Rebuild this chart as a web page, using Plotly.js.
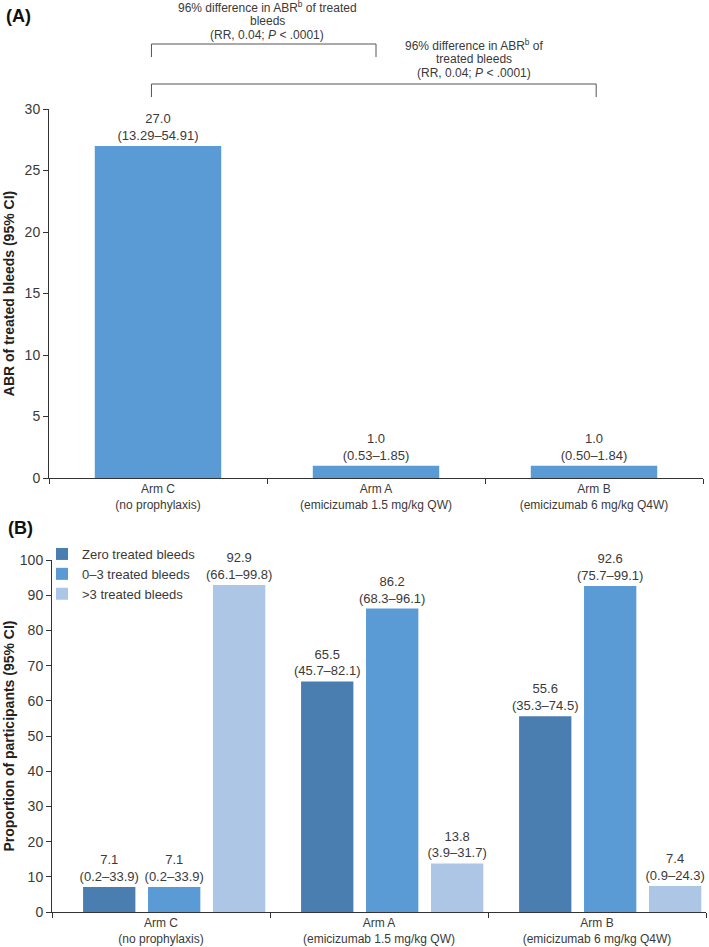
<!DOCTYPE html>
<html>
<head>
<meta charset="utf-8">
<script src="https://cdn.plot.ly/plotly-3.0.1.min.js"></script>
<style>html,body{margin:0;padding:0;background:#fff;}#chart{width:709px;height:947px;}</style>
</head>
<body>
<div id="chart"></div>
<script>
// ---- Data ----
const arms = ['Arm C<br>(no prophylaxis)', 'Arm A<br>(emicizumab 1.5 mg/kg QW)', 'Arm B<br>(emicizumab 6 mg/kg Q4W)'];
const abrValues = [27.0, 1.0, 1.0];
const abrCI = ['13.29–54.91', '0.53–1.85', '0.50–1.84'];
const seriesNames = ['Zero treated bleeds', '0–3 treated bleeds', '>3 treated bleeds'];
const zeroBleeds = [7.1, 65.5, 55.6];
const zeroBleedsCI = ['0.2–33.9', '45.7–82.1', '35.3–74.5'];
const upTo3Bleeds = [7.1, 86.2, 92.6];
const upTo3BleedsCI = ['0.2–33.9', '68.3–96.1', '75.7–99.1'];
const over3Bleeds = [92.9, 13.8, 7.4];
const over3BleedsCI = ['66.1–99.8', '3.9–31.7', '0.9–24.3'];
const yTicksA = [0, 5, 10, 15, 20, 25, 30];
const yTicksB = [0, 10, 20, 30, 40, 50, 60, 70, 80, 90, 100];
const comparison1Lines = ['96% difference in ABR<sup>b</sup> of treated', 'bleeds', '(RR, 0.04; <i>P</i> &lt; .0001)'];
const comparison2Lines = ['96% difference in ABR<sup>b</sup> of', 'treated bleeds', '(RR, 0.04; <i>P</i> &lt; .0001)'];

// ---- Styles ----
const W = 709, H = 947;
const FONT = 'Liberation Sans, Arial, sans-serif';
const TXT = '#3a3a3a';
const colA = '#5B9BD5';
const colsB = ['#4A7EB0', '#5B9BD5', '#ADC6E6'];
const px = v => v / W;
const py = v => 1 - v / H;

const barText = {family: FONT, size: 13, color: TXT};

const traces = [
  {
    type: 'bar', x: arms, y: abrValues, customdata: abrCI,
    xaxis: 'x', yaxis: 'y', marker: {color: colA}, showlegend: false,
    texttemplate: '%{y:.1f}<br>(%{customdata})', textposition: 'outside',
    constraintext: 'none', cliponaxis: false, textfont: barText, hoverinfo: 'skip'
  }
];
const seriesB = [[zeroBleeds, zeroBleedsCI], [upTo3Bleeds, upTo3BleedsCI], [over3Bleeds, over3BleedsCI]];
seriesB.forEach((s, i) => {
  traces.push({
    type: 'bar', name: seriesNames[i], x: arms, y: s[0], customdata: s[1],
    xaxis: 'x2', yaxis: 'y2', marker: {color: colsB[i]},
    width: 0.24, offset: -0.3575 + i * 0.298,
    texttemplate: '%{y:.1f}<br>(%{customdata})', textposition: 'outside',
    constraintext: 'none', cliponaxis: false, textfont: barText, hoverinfo: 'skip'
  });
});

const axisCommon = {
  showline: true, linecolor: '#333', linewidth: 1, showgrid: false, zeroline: false,
  ticks: 'outside', ticklen: 5, tickcolor: '#333', automargin: false, fixedrange: true
};

const annotations = [
  {text: '<b>(A)</b>', xref: 'paper', yref: 'paper', x: px(4), y: py(16), xanchor: 'left', yanchor: 'middle',
    showarrow: false, font: {family: FONT, size: 18, color: '#111'}},
  {text: '<b>(B)</b>', xref: 'paper', yref: 'paper', x: px(6), y: py(528), xanchor: 'left', yanchor: 'middle',
    showarrow: false, font: {family: FONT, size: 18, color: '#111'}}
];
const linePos1 = [7, 21, 35], linePos2 = [45, 59, 73];
comparison1Lines.forEach((t, i) => annotations.push({
  text: t, xref: 'x', yref: 'paper', x: 0.5, y: py(linePos1[i]), xanchor: 'center', yanchor: 'middle',
  showarrow: false, font: {family: FONT, size: 12, color: TXT}
}));
comparison2Lines.forEach((t, i) => annotations.push({
  text: t, xref: 'x', yref: 'paper', x: 1.45, y: py(linePos2[i]), xanchor: 'center', yanchor: 'middle',
  showarrow: false, font: {family: FONT, size: 12, color: TXT}
}));

const layout = {
  width: W, height: H,
  margin: {l: 0, r: 0, t: 0, b: 0},
  paper_bgcolor: '#fff', plot_bgcolor: '#fff',
  font: {family: FONT, color: TXT},
  barmode: 'group',
  showlegend: true,
  legend: {
    x: px(42), y: py(539), xanchor: 'left', yanchor: 'top',
    bgcolor: 'rgba(0,0,0,0)', font: {family: FONT, size: 13, color: TXT},
    traceorder: 'normal', itemwidth: 30
  },
  xaxis: Object.assign({}, axisCommon, {
    domain: [px(49), px(703)], anchor: 'y', type: 'category', tickson: 'boundaries',
    tickfont: {family: FONT, size: 12, color: TXT}
  }),
  yaxis: Object.assign({}, axisCommon, {
    domain: [py(478), py(109)], anchor: 'x', range: [0, 30], tickvals: yTicksA,
    tickfont: {family: FONT, size: 14, color: TXT},
    title: {text: 'ABR of treated bleeds (95% CI)', standoff: 6,
      font: {family: FONT, size: 14, color: '#222', weight: 'bold'}}
  }),
  xaxis2: Object.assign({}, axisCommon, {
    domain: [px(52), px(706)], anchor: 'y2', type: 'category', tickson: 'boundaries',
    tickfont: {family: FONT, size: 12, color: TXT}
  }),
  yaxis2: Object.assign({}, axisCommon, {
    domain: [py(912), py(560)], anchor: 'x2', range: [0, 100], tickvals: yTicksB,
    tickfont: {family: FONT, size: 14, color: TXT},
    title: {text: 'Proportion of participants (95% CI)', standoff: 1,
      font: {family: FONT, size: 14, color: '#222', weight: 'bold'}}
  }),
  bargap: 0.42,
  bargroupgap: 0,
  shapes: [
    {type: 'path', xref: 'x', yref: 'paper',
      path: `M -0.03,${py(57)} L -0.03,${py(44)} L 1.0,${py(44)} L 1.0,${py(57)}`,
      line: {color: '#555', width: 1}},
    {type: 'path', xref: 'x', yref: 'paper',
      path: `M -0.03,${py(97)} L -0.03,${py(84)} L 2.01,${py(84)} L 2.01,${py(97)}`,
      line: {color: '#555', width: 1}}
  ],
  annotations: annotations
};

Plotly.newPlot('chart', traces, layout, {staticPlot: true, displayModeBar: false});
</script>
</body>
</html>
